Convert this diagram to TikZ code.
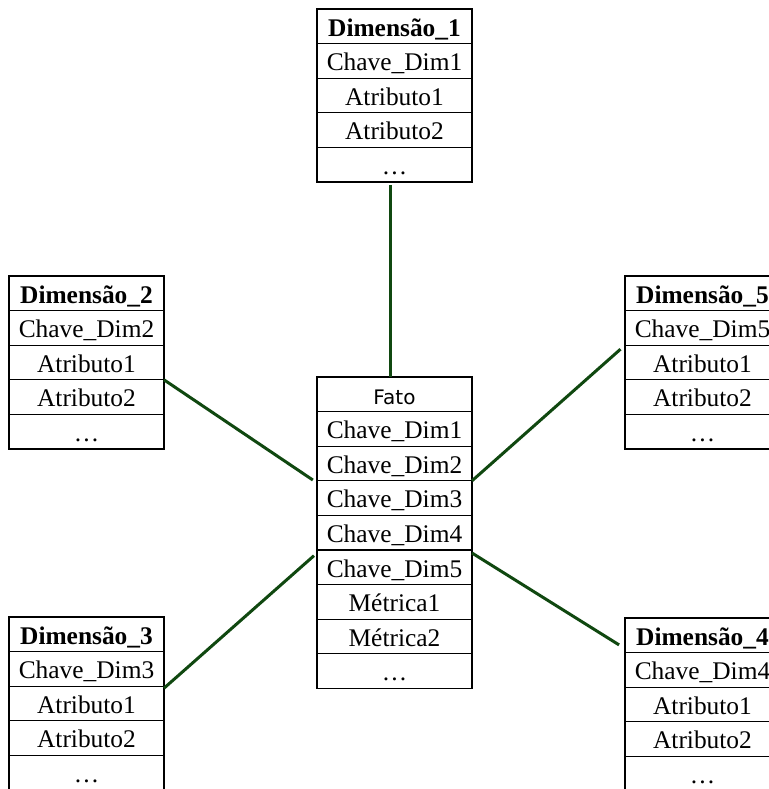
\documentclass[tikz,border=0pt]{standalone}
\usepackage{fontspec}
\setmainfont{Liberation Serif}
\newfontfamily\fatofont{DejaVu Sans}
\usepackage{tikz}
\usetikzlibrary{positioning}

\definecolor{verde}{RGB}{16,72,16}

\tikzset{
  celula/.style={draw, line width=0.6pt, minimum width=77.5pt, minimum height=17.3pt,
    inner sep=0pt, outer sep=0pt, text height=10.5pt, text depth=0.8pt,
    font=\fontsize{12.7}{14}\selectfont},
  titulo/.style={celula, font=\fontsize{12.7}{14}\selectfont\bfseries},
  ligacao/.style={draw=verde, line width=1.5pt}
}

\begin{document}
\begin{tikzpicture}
    \useasboundingbox (0,0) rectangle (384.5pt,-394.5pt);

    % Dimensao 1
    \node[titulo, anchor=north west] (d1-1) at (158.5pt,-4.5pt) {Dimensão\_1};
    \foreach \txt [count=\i from 2] in {Chave\_Dim1, Atributo1, Atributo2, \dots} {
      \pgfmathtruncatemacro\j{\i-1}
      \node[celula, below=0pt of d1-\j] (d1-\i) {\txt};
    }

    % Dimensao 2
    \node[titulo, anchor=north west] (d2-1) at (4.5pt,-138pt) {Dimensão\_2};
    \foreach \txt [count=\i from 2] in {Chave\_Dim2, Atributo1, Atributo2, \dots} {
      \pgfmathtruncatemacro\j{\i-1}
      \node[celula, below=0pt of d2-\j] (d2-\i) {\txt};
    }

    % Dimensao 5
    \node[titulo, anchor=north west] (d5-1) at (312.5pt,-138pt) {Dimensão\_5};
    \foreach \txt [count=\i from 2] in {Chave\_Dim5, Atributo1, Atributo2, \dots} {
      \pgfmathtruncatemacro\j{\i-1}
      \node[celula, below=0pt of d5-\j] (d5-\i) {\txt};
    }

    % Fato
    \node[celula, font=\fatofont\fontsize{10}{12}\selectfont, anchor=north west] (f1) at (158.5pt,-188.5pt) {Fato};
    \foreach \txt [count=\i from 2] in {Chave\_Dim1, Chave\_Dim2, Chave\_Dim3, Chave\_Dim4, Chave\_Dim5, Métrica1, Métrica2, \dots} {
      \pgfmathtruncatemacro\j{\i-1}
      \node[celula, below=0pt of f\j] (f\i) {\txt};
    }

    % Dimensao 3
    \node[titulo, anchor=north west] (d3-1) at (4.5pt,-308.5pt) {Dimensão\_3};
    \foreach \txt [count=\i from 2] in {Chave\_Dim3, Atributo1, Atributo2, \dots} {
      \pgfmathtruncatemacro\j{\i-1}
      \node[celula, below=0pt of d3-\j] (d3-\i) {\txt};
    }

    % Dimensao 4
    \node[titulo, anchor=north west] (d4-1) at (312.5pt,-309pt) {Dimensão\_4};
    \foreach \txt [count=\i from 2] in {Chave\_Dim4, Atributo1, Atributo2, \dots} {
      \pgfmathtruncatemacro\j{\i-1}
      \node[celula, below=0pt of d4-\j] (d4-\i) {\txt};
    }

    \draw[ligacao] ([xshift=-2pt,yshift=-1.5pt]d1-5.south) -- ([xshift=-2pt]f1.north);
    \draw[ligacao, shorten >=2.5pt] (d2-3.south east) -- ([yshift=-1pt]f3.south west);
    \draw[ligacao, shorten >=2pt] ([yshift=-1pt]d3-2.south east) -- ([yshift=-1.5pt]f5.south west);
    \draw[ligacao, shorten >=3pt] (f3.south east) -- (d5-2.south west);
    \draw[ligacao, shorten >=3.5pt] ([yshift=-1.5pt]f5.south east) -- ([yshift=2pt]d4-1.south west);
  \end{tikzpicture}
\end{document}
